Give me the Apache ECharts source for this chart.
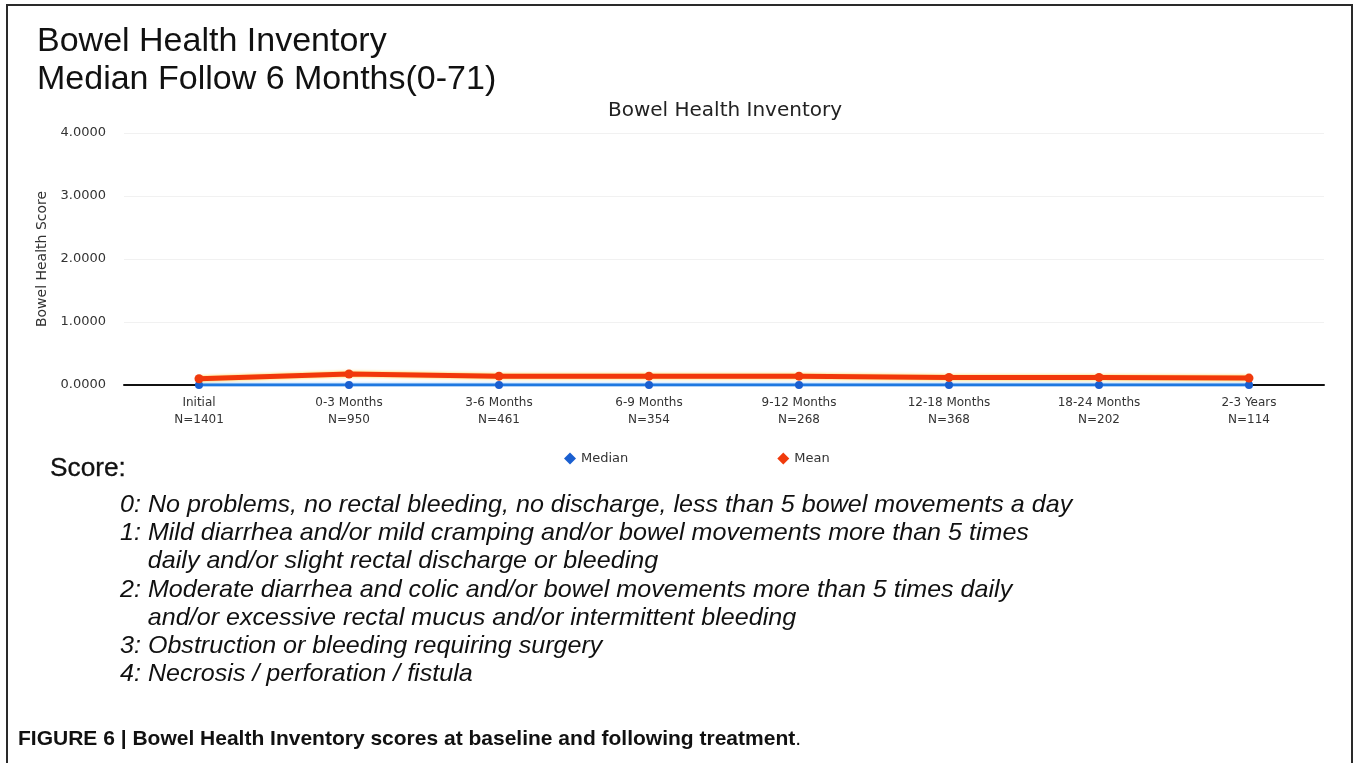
<!DOCTYPE html>
<html>
<head>
<meta charset="utf-8">
<script src="https://cdn.jsdelivr.net/npm/echarts@6/dist/echarts.min.js"></script>
<style>
  html, body { margin: 0; padding: 0; background: #fff; }
  #main { width: 1356px; height: 763px; }
</style>
</head>
<body>
<div id="main"></div>
<script>
// categories and sample sizes
var periods = ['Initial', '0-3 Months', '3-6 Months', '6-9 Months', '9-12 Months', '12-18 Months', '18-24 Months', '2-3 Years'];
var sampleSizes = [1401, 950, 461, 354, 268, 368, 202, 114];

// scores
var medianScores = [0, 0, 0, 0, 0, 0, 0, 0];
var meanScores = [0.10, 0.175, 0.14, 0.14, 0.14, 0.12, 0.12, 0.11];

// score legend under the chart
var scoreLines = [
  '0: No problems, no rectal bleeding, no discharge, less than 5 bowel movements a day',
  '1: Mild diarrhea and/or mild cramping and/or bowel movements more than 5 times',
  '    daily and/or slight rectal discharge or bleeding',
  '2: Moderate diarrhea and colic and/or bowel movements more than 5 times daily',
  '    and/or excessive rectal mucus and/or intermittent bleeding',
  '3: Obstruction or bleeding requiring surgery',
  '4: Necrosis / perforation / fistula'
];

var catLabels = periods.map(function (p, i) { return p + '\nN=' + sampleSizes[i]; });

var chart = echarts.init(document.getElementById('main'));

var graphics = [
  {
    type: 'rect', shape: { x: 7, y: 5, width: 1345, height: 800 },
    style: { fill: 'none', stroke: '#2a2a2a', lineWidth: 2 }, z: 10
  },
  {
    type: 'text', x: 37, y: 25,
    style: { text: 'Bowel Health Inventory', font: '34px "Liberation Sans", Arial', fill: '#111' }
  },
  {
    type: 'text', x: 37, y: 63,
    style: { text: 'Median Follow 6 Months(0-71)', font: '34px "Liberation Sans", Arial', fill: '#111' }
  },
  {
    type: 'text', x: 50, y: 457, scaleX: 1.05,
    style: { text: 'Score:', font: '25px "Liberation Sans", Arial', fill: '#111', stroke: '#111', lineWidth: 0.3 }
  },
  {
    type: 'text', x: 18, y: 729,
    style: {
      text: '{b|FIGURE 6 | Bowel Health Inventory scores at baseline and following treatment}{r|.}',
      rich: {
        b: { font: 'bold 21px "Liberation Sans", Arial', fill: '#111' },
        r: { font: '21px "Liberation Sans", Arial', fill: '#111' }
      }
    }
  }
];

scoreLines.forEach(function (line, i) {
  graphics.push({
    type: 'text', x: 120, y: 493 + i * 28.3, scaleX: 1.045,
    style: { text: line, font: 'italic 24px "Liberation Sans", Arial', fill: '#111' }
  });
});

chart.setOption({
  backgroundColor: '#fff',
  animation: false,
  title: {
    text: 'Bowel Health Inventory',
    left: 720, top: 96, textAlign: 'center',
    textStyle: { fontFamily: 'DejaVu Sans', fontSize: 20, fontWeight: 'normal', color: '#222' }
  },
  legend: {
    left: 559, top: 447,
    itemGap: 149, itemWidth: 12, itemHeight: 12,
    icon: 'diamond',
    textStyle: { fontFamily: 'DejaVu Sans', fontSize: 13, color: '#333' },
    data: ['Median', 'Mean']
  },
  grid: { left: 124, right: 32, top: 133, bottom: 378 },
  xAxis: {
    type: 'category',
    data: catLabels,
    boundaryGap: true,
    axisLine: { lineStyle: { color: '#111', width: 2 } },
    axisTick: { show: false },
    axisLabel: {
      margin: 9, lineHeight: 17,
      fontFamily: 'DejaVu Sans', fontSize: 12, color: '#333'
    }
  },
  yAxis: {
    type: 'value',
    min: 0, max: 4, interval: 1,
    name: 'Bowel Health Score',
    nameLocation: 'middle', nameGap: 73,
    nameTextStyle: { fontFamily: 'DejaVu Sans', fontSize: 14, color: '#333' },
    axisLine: { show: false },
    axisTick: { show: false },
    axisLabel: {
      margin: 18,
      fontFamily: 'DejaVu Sans', fontSize: 13, color: '#333',
      formatter: function (v) { return v.toFixed(4); }
    },
    splitLine: { lineStyle: { color: '#f1f1f1', width: 1 } }
  },
  series: [
    {
      name: 'Median', type: 'line', data: medianScores,
      symbol: 'circle', symbolSize: 8,
      itemStyle: { color: '#1a5fd0' },
      lineStyle: { color: '#1f78e0', width: 3, shadowColor: 'rgba(80,170,255,0.7)', shadowBlur: 3 },
      z: 3
    },
    {
      name: 'Mean', type: 'line', data: meanScores,
      symbol: 'circle', symbolSize: 9,
      itemStyle: { color: '#f03a0c' },
      lineStyle: { color: '#f2380a', width: 5, shadowColor: 'rgba(255,190,0,0.8)', shadowBlur: 3 },
      z: 4
    }
  ],
  graphic: graphics
});
</script>
</body>
</html>
